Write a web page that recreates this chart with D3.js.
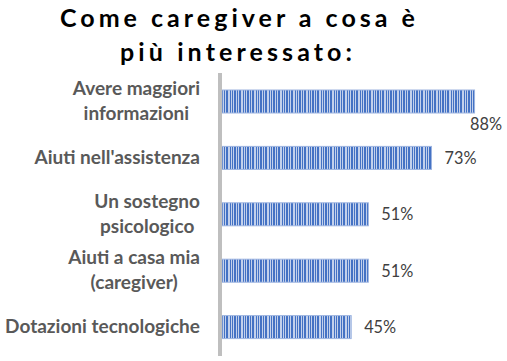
<!DOCTYPE html>
<html><head><meta charset="utf-8">
<script src="https://cdn.jsdelivr.net/npm/d3@7"></script>
<style>body{margin:0;background:#fff}svg{display:block}</style>
</head><body>
<svg id="c" width="507" height="361"></svg>
<script>
const titleLines = ["Come caregiver a cosa è", "più interessato:"];
const categories = ["Avere maggiori informazioni", "Aiuti nell'assistenza", "Un sostegno psicologico", "Aiuti a casa mia (caregiver)", "Dotazioni tecnologiche"];
const labelLines = [["Avere maggiori", "informazioni"], ["Aiuti nell'assistenza"], ["Un sostegno", "psicologico"], ["Aiuti a casa mia", "(caregiver)"], ["Dotazioni tecnologiche"]];
const values = [0.88, 0.73, 0.51, 0.51, 0.45];
const valueLabels = ["88%", "73%", "51%", "51%", "45%"];

const svg = d3.select("#c");
const FONT = "Lato, 'Open Sans', sans-serif";

// pattern
const defs = svg.append("defs");
const stripes = [[2,1],[1,1],[2,2],[1,1],[1,1]]; // [dark, light]
const pw = d3.sum(stripes, d => d[0] + d[1]);
const pat = defs.append("pattern").attr("id", "vstripe").attr("patternUnits", "userSpaceOnUse")
  .attr("width", pw).attr("height", 10);
pat.append("rect").attr("width", pw).attr("height", 10).attr("fill", "#c3d1ec");
let px = 0;
stripes.forEach(s => {
  pat.append("rect").attr("x", px).attr("width", s[0]).attr("height", 10).attr("fill", "#4472c4");
  px += s[0] + s[1];
});

const x = d3.scaleLinear().domain([0, 1]).range([222, 509]);
const y = d3.scaleBand().domain(categories).range([73.3, 355.3]).padding(0);
const barH = 23;

// title
function fitSpacing(sel, target) {
  sel.attr("letter-spacing", 0);
  const w = sel.node().getComputedTextLength();
  const n = sel.text().length;
  const ls = (target - w) / (n - 1);
  sel.attr("letter-spacing", ls).attr("dx", ls / 2);
}
const t1 = svg.append("text").attr("x", 237.5).attr("y", 27).attr("text-anchor", "middle")
  .attr("font-family", FONT).attr("font-weight", "bold").attr("font-size", 25).attr("fill", "#000").text(titleLines[0]);
fitSpacing(t1, 355);
const t2 = svg.append("text").attr("x", 236).attr("y", 61).attr("text-anchor", "middle")
  .attr("font-family", FONT).attr("font-weight", "bold").attr("font-size", 25).attr("fill", "#000").text(titleLines[1]);
fitSpacing(t2, 232);

// bars
svg.selectAll("rect.bar").data(categories).join("rect").attr("class", "bar")
  .attr("x", x(0))
  .attr("y", d => y(d) + y.bandwidth() / 2 - barH / 2)
  .attr("width", (d, i) => x(values[i]) - x(0))
  .attr("height", barH)
  .attr("fill", "url(#vstripe)")
  .attr("stroke", "#9db4e0").attr("stroke-width", 1);

// axis line
svg.append("line").attr("x1", 220).attr("x2", 220).attr("y1", 73).attr("y2", 356)
  .attr("stroke", "#bfbfbf").attr("stroke-width", 4);

// category labels: measure size
const probe = svg.append("text").attr("font-family", FONT).attr("font-weight", "bold").attr("font-size", 100).text("Dotazioni tecnologiche");
const catSize = 100 * 195 / probe.node().getComputedTextLength();
probe.remove();
const lineH = 25;
categories.forEach((c, i) => {
  const lines = labelLines[i];
  const cy = y(c) + y.bandwidth() / 2;
  const g = svg.append("g");
  const texts = lines.map((l, j) => g.append("text")
    .attr("font-family", FONT).attr("font-weight", "bold").attr("font-size", catSize)
    .attr("fill", "#595959").attr("text-anchor", "middle")
    .attr("y", cy + 6 - (lines.length - 1) * lineH / 2 + j * lineH).text(l));
  const maxW = d3.max(texts, t => t.node().getComputedTextLength());
  texts.forEach(t => t.attr("x", 200 - maxW / 2));
});

// value labels
const probe2 = svg.append("text").attr("font-family", FONT).attr("font-size", 100).text("88%");
const valSize = 100 * 32 / probe2.node().getComputedTextLength();
probe2.remove();
categories.forEach((c, i) => {
  const cy = y(c) + y.bandwidth() / 2;
  const over = x(values[i]) + 40 > 507;
  svg.append("text").attr("font-family", FONT).attr("font-size", valSize).attr("fill", "#404040")
    .attr("text-anchor", over ? "end" : "start")
    .attr("x", over ? 502 : x(values[i]) + 13)
    .attr("y", over ? cy + 28.5 : cy + 6)
    .text(valueLabels[i]);
});
</script>
</body></html>
